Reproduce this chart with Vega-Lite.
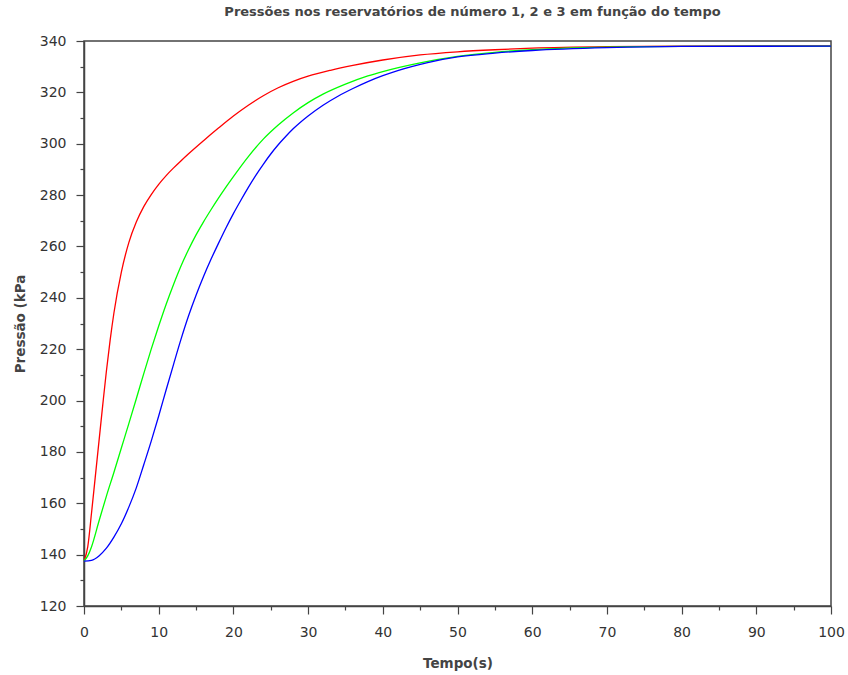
{
  "$schema": "https://vega.github.io/schema/vega-lite/v6.json",
  "width": 747,
  "height": 565,
  "autosize": {"type": "none"},
  "padding": {"left": 84, "top": 41, "right": 17, "bottom": 69},
  "background": "white",
  "title": {
    "text": "Pressões nos reservatórios de número 1, 2 e 3 em função do tempo",
    "font": "DejaVu Sans",
    "fontSize": 13,
    "fontWeight": "bold",
    "color": "#444444",
    "anchor": "middle",
    "offset": 15,
    "dx": 15
  },
  "config": {
    "view": {"stroke": "#444444", "strokeWidth": 1.5},
    "axis": {
      "grid": false,
      "domainColor": "#444444",
      "domainWidth": 1.5,
      "tickColor": "#444444",
      "tickWidth": 1.2,
      "labelFont": "DejaVu Sans",
      "labelFontSize": 14,
      "labelColor": "#333333",
      "titleFont": "DejaVu Sans",
      "titleFontSize": 13.5,
      "titleFontWeight": "bold",
      "titleColor": "#444444"
    }
  },
  "data": {
    "values": [
      {"t": 0, "p": 137.5, "s": "1"}, {"t": 0.5, "p": 143, "s": "1"}, {"t": 1, "p": 156, "s": "1"}, {"t": 1.5, "p": 170, "s": "1"},
      {"t": 2, "p": 184, "s": "1"}, {"t": 2.5, "p": 198, "s": "1"}, {"t": 3, "p": 211.5, "s": "1"}, {"t": 3.5, "p": 223.5, "s": "1"},
      {"t": 4, "p": 234, "s": "1"}, {"t": 5, "p": 250, "s": "1"}, {"t": 6, "p": 261.5, "s": "1"}, {"t": 7, "p": 269.5, "s": "1"},
      {"t": 8, "p": 275.5, "s": "1"}, {"t": 9, "p": 280.2, "s": "1"}, {"t": 10, "p": 284.2, "s": "1"}, {"t": 11, "p": 287.6, "s": "1"},
      {"t": 12, "p": 290.6, "s": "1"}, {"t": 13, "p": 293.4, "s": "1"}, {"t": 14, "p": 296.1, "s": "1"}, {"t": 16, "p": 301.2, "s": "1"},
      {"t": 18, "p": 306.1, "s": "1"}, {"t": 20, "p": 310.8, "s": "1"}, {"t": 22, "p": 315, "s": "1"}, {"t": 24, "p": 318.7, "s": "1"},
      {"t": 26, "p": 321.8, "s": "1"}, {"t": 28, "p": 324.3, "s": "1"}, {"t": 30, "p": 326.3, "s": "1"}, {"t": 33, "p": 328.6, "s": "1"},
      {"t": 36, "p": 330.5, "s": "1"}, {"t": 40, "p": 332.6, "s": "1"}, {"t": 45, "p": 334.6, "s": "1"}, {"t": 50, "p": 335.8, "s": "1"},
      {"t": 55, "p": 336.6, "s": "1"}, {"t": 60, "p": 337.2, "s": "1"}, {"t": 70, "p": 337.8, "s": "1"}, {"t": 80, "p": 338, "s": "1"},
      {"t": 100, "p": 338.1, "s": "1"},

      {"t": 0, "p": 137.5, "s": "2"}, {"t": 0.5, "p": 139.5, "s": "2"}, {"t": 1, "p": 143, "s": "2"}, {"t": 2, "p": 153, "s": "2"},
      {"t": 3, "p": 162.8, "s": "2"}, {"t": 4, "p": 172, "s": "2"}, {"t": 5, "p": 181.5, "s": "2"}, {"t": 6, "p": 191, "s": "2"},
      {"t": 7, "p": 200.7, "s": "2"}, {"t": 8, "p": 210.5, "s": "2"}, {"t": 9, "p": 220, "s": "2"}, {"t": 10, "p": 229, "s": "2"},
      {"t": 11, "p": 237.5, "s": "2"}, {"t": 12, "p": 245.3, "s": "2"}, {"t": 13, "p": 252.5, "s": "2"}, {"t": 14, "p": 258.8, "s": "2"},
      {"t": 15, "p": 264.5, "s": "2"}, {"t": 16, "p": 269.6, "s": "2"}, {"t": 17, "p": 274.3, "s": "2"}, {"t": 18, "p": 278.8, "s": "2"},
      {"t": 19, "p": 283.1, "s": "2"}, {"t": 20, "p": 287.2, "s": "2"}, {"t": 22, "p": 295, "s": "2"}, {"t": 24, "p": 301.8, "s": "2"},
      {"t": 26, "p": 307.3, "s": "2"}, {"t": 28, "p": 312, "s": "2"}, {"t": 30, "p": 316, "s": "2"}, {"t": 32, "p": 319.3, "s": "2"},
      {"t": 35, "p": 323.2, "s": "2"}, {"t": 38, "p": 326.4, "s": "2"}, {"t": 40, "p": 328.1, "s": "2"}, {"t": 45, "p": 331.5, "s": "2"},
      {"t": 50, "p": 334, "s": "2"}, {"t": 55, "p": 335.6, "s": "2"}, {"t": 60, "p": 336.6, "s": "2"}, {"t": 70, "p": 337.6, "s": "2"},
      {"t": 80, "p": 337.9, "s": "2"}, {"t": 100, "p": 338, "s": "2"},

      {"t": 0, "p": 137.5, "s": "3"}, {"t": 1, "p": 137.8, "s": "3"}, {"t": 2, "p": 139.5, "s": "3"}, {"t": 3, "p": 142.5, "s": "3"},
      {"t": 4, "p": 146.8, "s": "3"}, {"t": 5, "p": 152, "s": "3"}, {"t": 6, "p": 158.5, "s": "3"}, {"t": 7, "p": 166, "s": "3"},
      {"t": 8, "p": 175, "s": "3"}, {"t": 9, "p": 184.2, "s": "3"}, {"t": 10, "p": 194, "s": "3"}, {"t": 11, "p": 204.2, "s": "3"},
      {"t": 12, "p": 214.2, "s": "3"}, {"t": 13, "p": 224, "s": "3"}, {"t": 14, "p": 233, "s": "3"}, {"t": 15, "p": 241, "s": "3"},
      {"t": 16, "p": 248.3, "s": "3"}, {"t": 17, "p": 255, "s": "3"}, {"t": 18, "p": 261.2, "s": "3"}, {"t": 19, "p": 267.2, "s": "3"},
      {"t": 20, "p": 272.8, "s": "3"}, {"t": 21, "p": 278, "s": "3"}, {"t": 22, "p": 283, "s": "3"}, {"t": 23, "p": 287.7, "s": "3"},
      {"t": 24, "p": 292, "s": "3"}, {"t": 25, "p": 296, "s": "3"}, {"t": 26, "p": 299.6, "s": "3"}, {"t": 27, "p": 302.8, "s": "3"},
      {"t": 28, "p": 305.8, "s": "3"}, {"t": 30, "p": 310.8, "s": "3"}, {"t": 32, "p": 315, "s": "3"}, {"t": 34, "p": 318.5, "s": "3"},
      {"t": 36, "p": 321.5, "s": "3"}, {"t": 38, "p": 324.2, "s": "3"}, {"t": 40, "p": 326.5, "s": "3"}, {"t": 42, "p": 328.5, "s": "3"},
      {"t": 46, "p": 331.6, "s": "3"}, {"t": 50, "p": 333.8, "s": "3"}, {"t": 55, "p": 335.3, "s": "3"}, {"t": 60, "p": 336.3, "s": "3"},
      {"t": 70, "p": 337.4, "s": "3"}, {"t": 80, "p": 337.9, "s": "3"}, {"t": 100, "p": 338, "s": "3"}
    ]
  },
  "mark": {"type": "line", "strokeWidth": 1.3, "interpolate": "monotone", "clip": true},
  "encoding": {
    "x": {
      "field": "t",
      "type": "quantitative",
      "scale": {"domain": [0, 100], "nice": false, "zero": false},
      "axis": {
        "title": "Tempo(s)",
        "values": [0, 5, 10, 15, 20, 25, 30, 35, 40, 45, 50, 55, 60, 65, 70, 75, 80, 85, 90, 95, 100],
        "labelExpr": "datum.value % 10 === 0 ? datum.label : ''",
        "tickSize": {"condition": {"test": "datum.value % 10 === 0", "value": 8}, "value": 4},
        "labelPadding": 11,
        "titlePadding": 17,
        "labelFlush": false
      }
    },
    "y": {
      "field": "p",
      "type": "quantitative",
      "scale": {"domain": [120, 340], "nice": false, "zero": false},
      "axis": {
        "title": "Pressão (kPa",
        "values": [120, 130, 140, 150, 160, 170, 180, 190, 200, 210, 220, 230, 240, 250, 260, 270, 280, 290, 300, 310, 320, 330, 340],
        "labelExpr": "datum.value % 20 === 0 ? datum.label : ''",
        "tickSize": {"condition": {"test": "datum.value % 20 === 0", "value": 8}, "value": 4},
        "labelPadding": 10,
        "titlePadding": 12,
        "labelFlush": false
      }
    },
    "color": {
      "field": "s",
      "type": "nominal",
      "scale": {"domain": ["1", "2", "3"], "range": ["#ff0000", "#00ff00", "#0000ff"]},
      "legend": null
    }
  }
}
